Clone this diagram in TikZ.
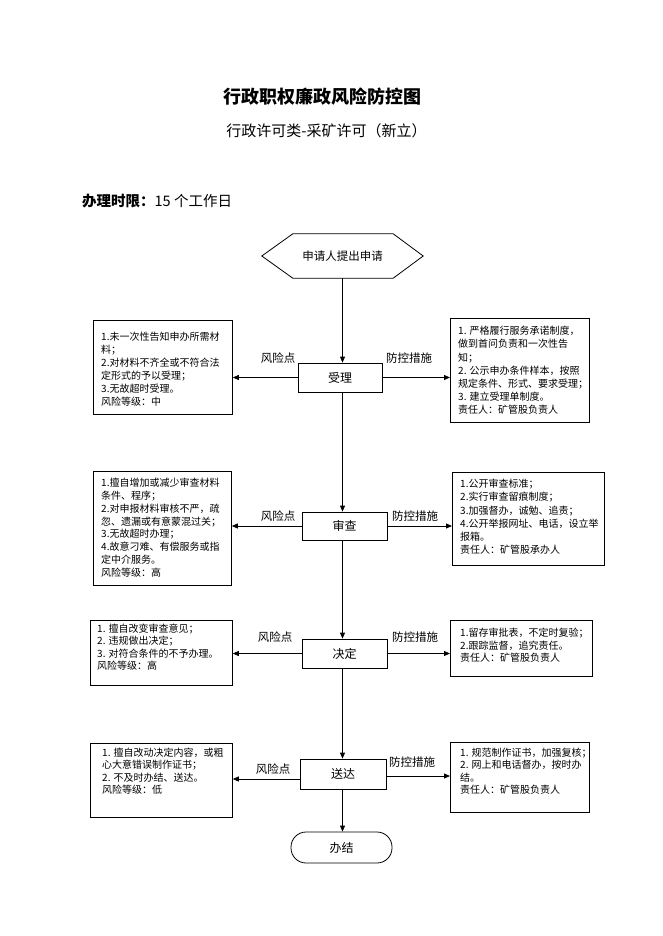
\documentclass[tikz,border=0pt]{standalone}
\usepackage{fontspec}
\setmainfont{Noto Sans CJK SC}
\usetikzlibrary{arrows.meta}
\tikzset{
  proc/.style={draw, line width=0.8pt, inner sep=0pt, font=\fontsize{12}{14}\selectfont},
  infobox/.style={draw, line width=0.8pt, inner sep=0pt, anchor=north west},
  infotext/.style={anchor=north west, inner sep=0pt, align=left},
  arr/.style={line width=0.8pt, -{Triangle[length=6pt,width=5pt]}},
  lbl/.style={font=\fontsize{11.5}{14}\selectfont, inner sep=0pt},
}
\newcommand{\fs}[1]{\fontsize{10}{#1}\selectfont}
\begin{document}
\begin{tikzpicture}[x={(1pt,0)}, y={(0,-1pt)}]
\useasboundingbox[fill=white] (0,0) rectangle (662,936);

% titles
\node[inner sep=0, font=\fontsize{18}{20}\selectfont\bfseries] (title) at (322.5,97) {行政职权廉政风险防控图};
\node[inner sep=0, font=\fontsize{15}{17}\selectfont] (subtitle) at (326.5,131) {行政许可类-采矿许可（新立）};
\node[inner sep=0, anchor=west, font=\fontsize{14.5}{17}\selectfont] (limit) at (82,201) {\textbf{办理时限：}15 个工作日};

% main flow
\node[inner sep=0, minimum width=161pt, minimum height=44pt, font=\fontsize{11.5}{14}\selectfont] (hex) at (342.5,256) {申请人提出申请};
\draw[line width=0.8pt] (hex.west) -- ([xshift=31pt]hex.north west) -- ([xshift=-30pt]hex.north east) -- (hex.east) -- ([xshift=-30pt]hex.south east) -- ([xshift=31pt]hex.south west) -- cycle;

\node[proc, minimum width=84pt, minimum height=29pt] (shouli) at (340,377.5) {受理};
\node[proc, minimum width=85pt, minimum height=28pt] (shencha) at (344.5,526) {审查};
\node[proc, minimum width=85pt, minimum height=29pt] (jueding) at (344.5,653.5) {决定};
\node[proc, minimum width=86pt, minimum height=30pt] (songda) at (343,774) {送达};
\node[proc, rounded corners=15pt, minimum width=101pt, minimum height=31pt] (banjie) at (341.5,847.5) {办结};

\draw[arr] (hex.south) -- (hex.south |- shouli.north);
\draw[arr] (shouli.south -| hex.south) -- (shencha.north -| hex.south);
\draw[arr] (shencha.south -| hex.south) -- (jueding.north -| hex.south);
\draw[arr] (jueding.south -| hex.south) -- (songda.north -| hex.south);
\draw[arr] (songda.south -| hex.south) -- (banjie.north -| hex.south);

% row 1
\node[infobox, minimum width=139pt, minimum height=94pt] (L1) at (93,320) {};
\node[infotext, font=\fs{13}] (L1t) at (101,332) {1.未一次性告知申办所需材\\料；\\2.对材料不齐全或不符合法\\定形式的予以受理；\\3.无故超时受理。\\风险等级：中};
\node[infobox, minimum width=139pt, minimum height=104pt] (R1) at (450,318) {};
\node[infotext, font=\fs{13.2}] (R1t) at (458,326) {1. 严格履行服务承诺制度，\\做到首问负责和一次性告\\知；\\2. 公示申办条件样本，按照\\规定条件、形式、要求受理；\\3. 建立受理单制度。\\责任人：矿管股负责人};
\draw[arr] (shouli.west) -- (shouli.west -| L1.east);
\draw[arr] (shouli.east) -- (shouli.east -| R1.west);
\node[lbl] (rp1) at (278,358) {风险点};
\node[lbl] (cm1) at (409,358) {防控措施};

% row 2
\node[infobox, minimum width=138pt, minimum height=114pt] (L2) at (93,471) {};
\node[infotext, font=\fs{12.8}] (L2t) at (101,478) {1.擅自增加或减少审查材料\\条件、程序；\\2.对申报材料审核不严，疏\\忽、遗漏或有意蒙混过关；\\3.无故超时办理；\\4.故意刁难、有偿服务或指\\定中介服务。\\风险等级：高};
\node[infobox, minimum width=152pt, minimum height=93pt] (R2) at (452,472) {};
\node[infotext, font=\fs{13.2}] (R2t) at (460,479) {1.公开审查标准；\\2.实行审查留痕制度；\\3.加强督办，诚勉、追责；\\4.公开举报网址、电话，设立举\\报箱。\\责任人：矿管股承办人};
\draw[arr] (shencha.west) -- (shencha.west -| L2.east);
\draw[arr] (shencha.east) -- (shencha.east -| R2.west);
\node[lbl] (rp2) at (278,516) {风险点};
\node[lbl] (cm2) at (415,516) {防控措施};

% row 3
\node[infobox, minimum width=142pt, minimum height=65pt] (L3) at (90,620) {};
\node[infotext, font=\fs{12.3}] (L3t) at (97,624) {1. 擅自改变审查意见；\\2. 违规做出决定；\\3. 对符合条件的不予办理。\\风险等级：高};
\node[infobox, minimum width=142pt, minimum height=56pt] (R3) at (450,620) {};
\node[infotext, font=\fs{12.6}] (R3t) at (460,628) {1.留存审批表，不定时复验；\\2.跟踪监督，追究责任。\\责任人：矿管股负责人};
\draw[arr] (jueding.west) -- (jueding.west -| L3.east);
\draw[arr] (jueding.east) -- (jueding.east -| R3.west);
\node[lbl] (rp3) at (275,637) {风险点};
\node[lbl] (cm3) at (415,637) {防控措施};

% row 4
\node[infobox, minimum width=142pt, minimum height=74pt] (L4) at (90,743) {};
\node[infotext, font=\fs{12.3}] (L4t) at (102,748) {1. 擅自改动决定内容，或粗\\心大意错误制作证书；\\2. 不及时办结、送达。\\风险等级：低};
\node[infobox, minimum width=139pt, minimum height=70pt] (R4) at (450,742) {};
\node[infotext, font=\fs{12.3}] (R4t) at (460,748) {1. 规范制作证书，加强复核；\\2. 网上和电话督办，按时办\\结。\\责任人：矿管股负责人};
\draw[arr] ([yshift=-5pt]songda.west) -- ([yshift=-5pt]songda.west -| L4.east);
\draw[arr] ([yshift=-2pt]songda.east) -- ([yshift=-2pt]songda.east -| R4.west);
\node[lbl] (rp4) at (273,769) {风险点};
\node[lbl] (cm4) at (412,762) {防控措施};
\end{tikzpicture}
\end{document}
